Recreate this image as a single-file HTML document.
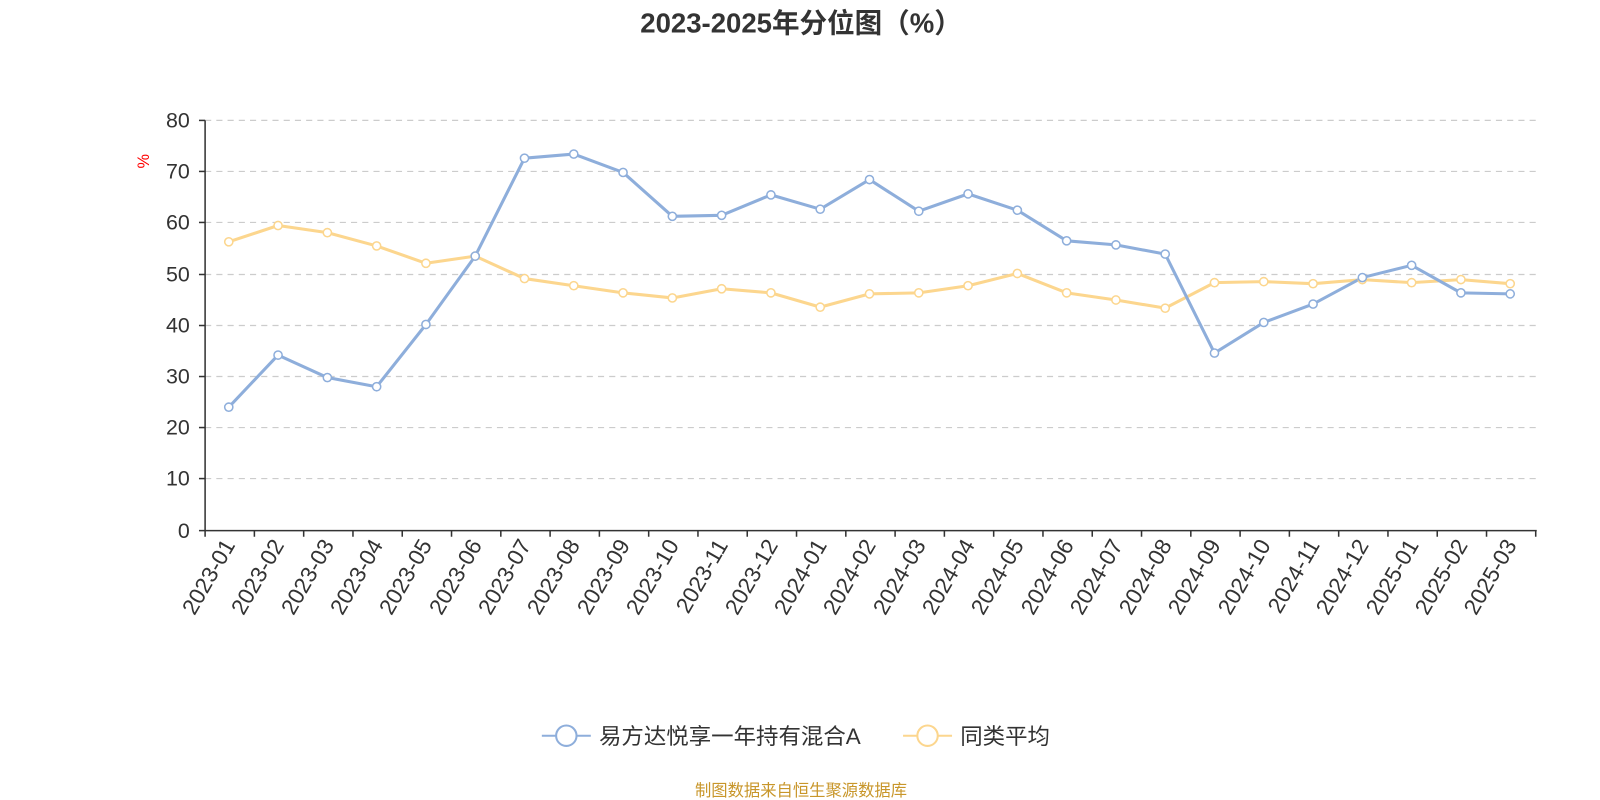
<!DOCTYPE html>
<html><head><meta charset="utf-8"><style>body{margin:0;background:#fff}svg{display:block}text{font-family:"Liberation Sans","Noto Sans CJK SC",sans-serif}</style></head><body>
<svg width="1600" height="800" viewBox="0 0 1568 784">
<text x="785" y="32" text-anchor="middle" font-size="27" font-weight="bold" fill="#333">2023-2025年分位图（%）</text>
<g stroke="#ccc" stroke-width="1.2" stroke-dasharray="6,5">
<line x1="201" x2="1505" y1="118" y2="118"/><line x1="201" x2="1505" y1="168" y2="168"/><line x1="201" x2="1505" y1="218" y2="218"/><line x1="201" x2="1505" y1="269" y2="269"/><line x1="201" x2="1505" y1="319" y2="319"/><line x1="201" x2="1505" y1="369" y2="369"/><line x1="201" x2="1505" y1="419" y2="419"/><line x1="201" x2="1505" y1="469" y2="469"/>
</g>
<g stroke="#333" stroke-width="1.5"><line x1="201" y1="118" x2="201" y2="520"/><line x1="201" y1="520" x2="1506" y2="520"/>
<line x1="195" x2="201" y1="118" y2="118"/><line x1="195" x2="201" y1="168" y2="168"/><line x1="195" x2="201" y1="218" y2="218"/><line x1="195" x2="201" y1="269" y2="269"/><line x1="195" x2="201" y1="319" y2="319"/><line x1="195" x2="201" y1="369" y2="369"/><line x1="195" x2="201" y1="419" y2="419"/><line x1="195" x2="201" y1="469" y2="469"/><line x1="195" x2="201" y1="520" y2="520"/>
<path d="M201 520v6M249.3 520v6M297.6 520v6M345.9 520v6M394.2 520v6M442.5 520v6M490.8 520v6M539.1 520v6M587.4 520v6M635.7 520v6M684 520v6M732.3 520v6M780.6 520v6M828.9 520v6M877.2 520v6M925.5 520v6M973.8 520v6M1022.1 520v6M1070.4 520v6M1118.7 520v6M1167 520v6M1215.3 520v6M1263.6 520v6M1311.9 520v6M1360.2 520v6M1408.5 520v6M1456.8 520v6M1505 520v6"/></g>
<g font-size="21" fill="#333" text-anchor="end">
<text x="186" y="125">80</text><text x="186" y="175">70</text><text x="186" y="225">60</text><text x="186" y="276">50</text><text x="186" y="326">40</text><text x="186" y="376">30</text><text x="186" y="426">20</text><text x="186" y="476">10</text><text x="186" y="527">0</text>
</g>
<text x="146" y="158" font-size="16" fill="red" text-anchor="middle" transform="rotate(-90 146 158)">%</text>
<g font-size="22" fill="#333" text-anchor="end">
<text transform="translate(231,534) rotate(-60)">2023-01</text><text transform="translate(279,534) rotate(-60)">2023-02</text><text transform="translate(328,534) rotate(-60)">2023-03</text><text transform="translate(376,534) rotate(-60)">2023-04</text><text transform="translate(424,534) rotate(-60)">2023-05</text><text transform="translate(473,534) rotate(-60)">2023-06</text><text transform="translate(521,534) rotate(-60)">2023-07</text><text transform="translate(569,534) rotate(-60)">2023-08</text><text transform="translate(618,534) rotate(-60)">2023-09</text><text transform="translate(666,534) rotate(-60)">2023-10</text><text transform="translate(714,534) rotate(-60)">2023-11</text><text transform="translate(763,534) rotate(-60)">2023-12</text><text transform="translate(811,534) rotate(-60)">2024-01</text><text transform="translate(859,534) rotate(-60)">2024-02</text><text transform="translate(908,534) rotate(-60)">2024-03</text><text transform="translate(956,534) rotate(-60)">2024-04</text><text transform="translate(1004,534) rotate(-60)">2024-05</text><text transform="translate(1053,534) rotate(-60)">2024-06</text><text transform="translate(1101,534) rotate(-60)">2024-07</text><text transform="translate(1149,534) rotate(-60)">2024-08</text><text transform="translate(1197,534) rotate(-60)">2024-09</text><text transform="translate(1246,534) rotate(-60)">2024-10</text><text transform="translate(1294,534) rotate(-60)">2024-11</text><text transform="translate(1342,534) rotate(-60)">2024-12</text><text transform="translate(1391,534) rotate(-60)">2025-01</text><text transform="translate(1439,534) rotate(-60)">2025-02</text><text transform="translate(1487,534) rotate(-60)">2025-03</text>
</g>
<g fill="none" stroke-width="3" stroke-linejoin="round">
<polyline stroke="#fcd68e" points="224.2,237 272.5,221 320.8,228 369.1,241 417.4,258 465.7,251 514,273 562.3,280 610.6,287 658.9,292 707.2,283 755.5,287 803.8,301 852.1,288 900.4,287 948.7,280 997,268 1045.3,287 1093.6,294 1141.9,302 1190.2,277 1238.5,276 1286.8,278 1335.1,274 1383.4,277 1431.7,274 1480,278"/>
<polyline stroke="#8eaedb" points="224.2,399 272.5,348 320.8,370 369.1,379 417.4,318 465.7,251 514,155 562.3,151 610.6,169 658.9,212 707.2,211 755.5,191 803.8,205 852.1,176 900.4,207 948.7,190 997,206 1045.3,236 1093.6,240 1141.9,249 1190.2,346 1238.5,316 1286.8,298 1335.1,272 1383.4,260 1431.7,287 1480,288"/>
</g>
<g fill="#fff" stroke="#fcd68e" stroke-width="1.5">
<circle cx="224.2" cy="237" r="4"/><circle cx="272.5" cy="221" r="4"/><circle cx="320.8" cy="228" r="4"/><circle cx="369.1" cy="241" r="4"/><circle cx="417.4" cy="258" r="4"/><circle cx="465.7" cy="251" r="4"/><circle cx="514" cy="273" r="4"/><circle cx="562.3" cy="280" r="4"/><circle cx="610.6" cy="287" r="4"/><circle cx="658.9" cy="292" r="4"/><circle cx="707.2" cy="283" r="4"/><circle cx="755.5" cy="287" r="4"/><circle cx="803.8" cy="301" r="4"/><circle cx="852.1" cy="288" r="4"/><circle cx="900.4" cy="287" r="4"/><circle cx="948.7" cy="280" r="4"/><circle cx="997" cy="268" r="4"/><circle cx="1045.3" cy="287" r="4"/><circle cx="1093.6" cy="294" r="4"/><circle cx="1141.9" cy="302" r="4"/><circle cx="1190.2" cy="277" r="4"/><circle cx="1238.5" cy="276" r="4"/><circle cx="1286.8" cy="278" r="4"/><circle cx="1335.1" cy="274" r="4"/><circle cx="1383.4" cy="277" r="4"/><circle cx="1431.7" cy="274" r="4"/><circle cx="1480" cy="278" r="4"/>
</g>
<g fill="#fff" stroke="#8eaedb" stroke-width="1.5">
<circle cx="224.2" cy="399" r="4"/><circle cx="272.5" cy="348" r="4"/><circle cx="320.8" cy="370" r="4"/><circle cx="369.1" cy="379" r="4"/><circle cx="417.4" cy="318" r="4"/><circle cx="465.7" cy="251" r="4"/><circle cx="514" cy="155" r="4"/><circle cx="562.3" cy="151" r="4"/><circle cx="610.6" cy="169" r="4"/><circle cx="658.9" cy="212" r="4"/><circle cx="707.2" cy="211" r="4"/><circle cx="755.5" cy="191" r="4"/><circle cx="803.8" cy="205" r="4"/><circle cx="852.1" cy="176" r="4"/><circle cx="900.4" cy="207" r="4"/><circle cx="948.7" cy="190" r="4"/><circle cx="997" cy="206" r="4"/><circle cx="1045.3" cy="236" r="4"/><circle cx="1093.6" cy="240" r="4"/><circle cx="1141.9" cy="249" r="4"/><circle cx="1190.2" cy="346" r="4"/><circle cx="1238.5" cy="316" r="4"/><circle cx="1286.8" cy="298" r="4"/><circle cx="1335.1" cy="272" r="4"/><circle cx="1383.4" cy="260" r="4"/><circle cx="1431.7" cy="287" r="4"/><circle cx="1480" cy="288" r="4"/>
</g>
<g stroke-width="2" fill="#fff">
<line x1="531" x2="579" y1="721" y2="721" stroke="#8eaedb"/><circle cx="555" cy="721" r="10" stroke="#8eaedb"/>
<line x1="885" x2="933" y1="721" y2="721" stroke="#fcd68e"/><circle cx="909" cy="721" r="10" stroke="#fcd68e"/>
</g>
<text x="587" y="729" font-size="22" fill="#333">易方达悦享一年持有混合A</text>
<text x="941" y="729" font-size="22" fill="#333">同类平均</text>
<text x="785" y="780" font-size="16" fill="#c8962a" text-anchor="middle">制图数据来自恒生聚源数据库</text>
</svg>
</body></html>
